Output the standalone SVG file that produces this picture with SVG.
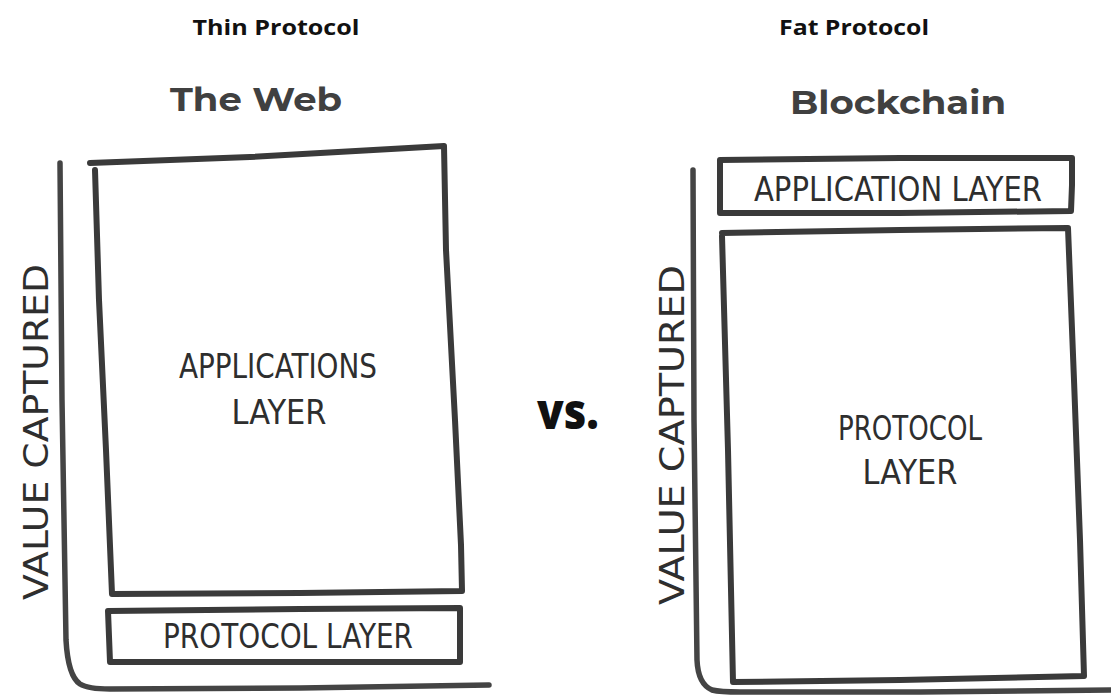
<svg xmlns="http://www.w3.org/2000/svg" width="1111" height="696" viewBox="0 0 1111 696">
<style>
.sk{fill:none;stroke:#3a3a3a;stroke-width:6;stroke-linecap:round;stroke-linejoin:round}
.ax{fill:none;stroke:#444;stroke-width:5.5;stroke-linecap:round;stroke-linejoin:round}
.hw{font-family:"DejaVu Sans Condensed","DejaVu Sans",sans-serif;fill:#2e2e2e;font-size:34px;text-anchor:middle;dominant-baseline:central}
.hd{font-family:"Open Sans","Noto Sans",sans-serif;font-weight:bold;font-size:22px;fill:#111;text-anchor:middle}
.tt{font-family:"Montserrat","Open Sans","Noto Sans",sans-serif;font-weight:bold;font-size:33px;fill:#404040;text-anchor:middle}
</style>
<rect width="1111" height="696" fill="#fff"/>
<g id="titles">
<text class="hd" x="276" y="35" textLength="167" lengthAdjust="spacingAndGlyphs">Thin Protocol</text>
<text class="hd" x="854" y="35" textLength="150" lengthAdjust="spacingAndGlyphs">Fat Protocol</text>
<text class="tt" x="256" y="111" textLength="172" lengthAdjust="spacingAndGlyphs">The Web</text>
<text class="tt" x="898" y="114" textLength="216" lengthAdjust="spacingAndGlyphs">Blockchain</text>
<text x="568" y="429" font-family="'Open Sans','Noto Sans',sans-serif" font-weight="900" font-size="50" fill="#111" text-anchor="middle" textLength="62" lengthAdjust="spacingAndGlyphs">vs.</text>
</g>
<g id="connectors">
<path class="ax" d="M60,163 L62,400 L66,640 Q68,676 80,684 Q88,689 110,689 L300,688 L489,685"/>
<path class="ax" d="M693,170 L694,420 L697,660 Q698,684 712,690 Q720,692 740,692 L920,692 L1111,690"/>
</g>
<g id="web-applications">
<path class="sk" d="M90,163 L250,157 L444,146 L446,250 L455,420 L461,545 L462,591 L300,593 L112,594 L106,450 L99,300 L95,170"/>
<text class="hw" x="278" y="366" textLength="198" lengthAdjust="spacingAndGlyphs">APPLICATIONS</text>
<text class="hw" x="279" y="412" textLength="95" lengthAdjust="spacingAndGlyphs">LAYER</text>
</g>
<g id="web-protocol">
<path class="sk" d="M108,611 L300,609 L460,608 L460,662 L300,662 L110,662 Z"/>
<text class="hw" x="288" y="636" textLength="250" lengthAdjust="spacingAndGlyphs">PROTOCOL LAYER</text>
</g>
<g id="web-axis-label">
<text class="hw" transform="translate(36,432) rotate(-90)" textLength="336" lengthAdjust="spacingAndGlyphs">VALUE CAPTURED</text>
</g>
<g id="bc-application">
<path class="sk" d="M720,160 L900,158 L1072,158 L1072,185 L1071,211 L900,213 L720,213 Z"/>
<text class="hw" x="898" y="189" textLength="288" lengthAdjust="spacingAndGlyphs">APPLICATION LAYER</text>
</g>
<g id="bc-protocol">
<path class="sk" d="M722,233 L900,230 L1068,228 L1074,380 L1080,540 L1084,676 L900,680 L733,682 L728,450 L722,236"/>
<text class="hw" x="910" y="428" textLength="144" lengthAdjust="spacingAndGlyphs">PROTOCOL</text>
<text class="hw" x="910" y="472" textLength="95" lengthAdjust="spacingAndGlyphs">LAYER</text>
</g>
<g id="bc-axis-label">
<text class="hw" transform="translate(672,435) rotate(-90)" textLength="340" lengthAdjust="spacingAndGlyphs">VALUE CAPTURED</text>
</g>
</svg>
